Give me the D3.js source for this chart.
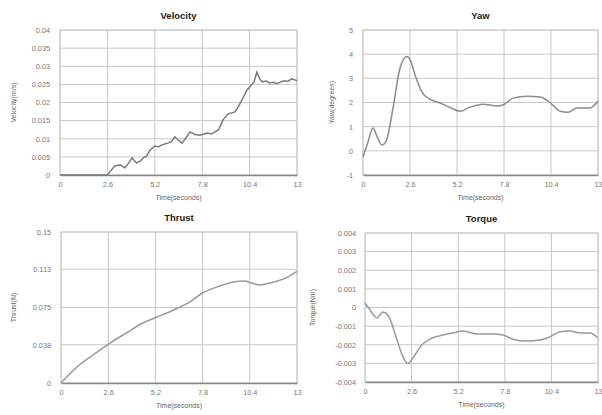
<!DOCTYPE html>
<html>
<head>
<meta charset="utf-8">
<script src="https://cdn.jsdelivr.net/npm/d3@7"></script>
<style>
  body { margin: 0; background: #fff; }
  text { font-family: "Liberation Sans", Arial, sans-serif; }
</style>
</head>
<body>
<script>
// shared x ticks
let timeTicks = [0, 2.6, 5.2, 7.8, 10.4, 13]

// velocity
let velTime = [0, 1, 2, 2.6, 2.8, 3.0, 3.3, 3.55, 3.75, 3.95, 4.2, 4.4, 4.57, 4.75, 4.94, 5.2, 5.4, 5.6, 5.9, 6.1, 6.3, 6.5, 6.7, 6.9, 7.13, 7.4, 7.7, 8.05, 8.3, 8.5, 8.7, 8.94, 9.2, 9.6, 9.8, 9.98, 10.25, 10.5, 10.65, 10.8, 10.95, 11.1, 11.3, 11.5, 11.7, 11.9, 12.1, 12.3, 12.5, 12.7, 12.85, 13]
let velValues = [0, 0, 0, 0, 0.0012, 0.0025, 0.0028, 0.002, 0.0032, 0.0047, 0.0033, 0.0038, 0.0047, 0.0052, 0.0069, 0.008, 0.0078, 0.0083, 0.0088, 0.0092, 0.0105, 0.0096, 0.0088, 0.0102, 0.0119, 0.0112, 0.011, 0.0116, 0.0113, 0.0119, 0.0125, 0.0152, 0.0168, 0.0174, 0.019, 0.0207, 0.0234, 0.0248, 0.0258, 0.0284, 0.0265, 0.0257, 0.0259, 0.0254, 0.0256, 0.0252, 0.0257, 0.026, 0.0258, 0.0265, 0.0263, 0.026]
let velTicks = [0, 0.005, 0.01, 0.015, 0.02, 0.025, 0.03, 0.035, 0.04]

// yaw
let yawTime = [0, 0.25, 0.55, 0.8, 1.05, 1.3, 1.66, 2.05, 2.43, 2.6, 2.88, 3.26, 3.7, 4.26, 4.8, 5.37, 5.9, 6.64, 7.4, 7.74, 8.3, 9.07, 9.8, 10.34, 10.9, 11.34, 11.84, 12.56, 13]
let yawValues = [-0.25, 0.3, 0.95, 0.55, 0.24, 0.45, 1.77, 3.43, 3.9, 3.78, 3.14, 2.43, 2.14, 1.98, 1.8, 1.64, 1.8, 1.93, 1.86, 1.9, 2.18, 2.26, 2.23, 2.0, 1.64, 1.6, 1.77, 1.77, 2.06]
let yawTicks = [-1, 0, 1, 2, 3, 4, 5]

// thrust
let thrustTime = [0, 0.88, 1.76, 2.7, 3.6, 4.5, 5.3, 6.2, 7.1, 7.8, 8.75, 9.5, 10.1, 10.5, 10.96, 11.5, 12.45, 13]
let thrustValues = [0, 0.0159, 0.0278, 0.0397, 0.0497, 0.0596, 0.0656, 0.0725, 0.0805, 0.0894, 0.0964, 0.1003, 0.1013, 0.0993, 0.0974, 0.0993, 0.105, 0.111]
let thrustTicks = [0, 0.038, 0.075, 0.113, 0.15]

// torque
let torqueTime = [0, 0.28, 0.67, 1.0, 1.28, 1.79, 2.12, 2.4, 2.68, 3.18, 3.74, 4.35, 4.9, 5.47, 6.25, 7.14, 7.7, 8.26, 9.04, 9.77, 10.3, 10.88, 11.44, 12.0, 12.56, 13]
let torqueValues = [0.00024, -0.00013, -0.00056, -0.00024, -0.0004, -0.00175, -0.00266, -0.003, -0.0027, -0.002, -0.00164, -0.00148, -0.00137, -0.00126, -0.00142, -0.00142, -0.00148, -0.0017, -0.0018, -0.00175, -0.00158, -0.0013, -0.00126, -0.00137, -0.00137, -0.00164]
let torqueTicks = [-0.004, -0.003, -0.002, -0.001, 0, 0.001, 0.002, 0.003, 0.004]

let width = 602
let height = 415

let svg = d3.select('body')
    .append('svg')
    .attr('width', width)
    .attr('height', height)

const drawPanel = (p) => {
    let xScale = d3.scaleLinear()
                    .domain([0, 13])
                    .range([p.left, p.right])

    let yScale = d3.scaleLinear()
                    .domain([p.ticks[0], p.ticks[p.ticks.length - 1]])
                    .range([p.bottom, p.top])

    let g = svg.append('g')

    // border
    g.append('rect')
        .attr('x', p.left)
        .attr('y', p.top)
        .attr('width', p.right - p.left)
        .attr('height', p.bottom - p.top)
        .attr('fill', 'none')
        .attr('stroke', '#d0d0d0')

    // grid
    g.selectAll('.hgrid')
        .data(p.ticks)
        .enter()
        .append('line')
        .attr('x1', p.left)
        .attr('x2', p.right)
        .attr('y1', d => yScale(d))
        .attr('y2', d => yScale(d))
        .attr('stroke', '#c8c8c8')

    g.selectAll('.vgrid')
        .data(timeTicks)
        .enter()
        .append('line')
        .attr('x1', d => xScale(d))
        .attr('x2', d => xScale(d))
        .attr('y1', p.top)
        .attr('y2', p.bottom)
        .attr('stroke', '#c8c8c8')

    let xAxis = d3.axisBottom(xScale)
                    .tickValues(timeTicks)
                    .tickSize(0)
                    .tickPadding(7)
                    .tickFormat(d => String(d))

    let yAxis = d3.axisLeft(yScale)
                    .tickValues(p.ticks)
                    .tickSize(0)
                    .tickPadding(p.pad)
                    .tickFormat(d => String(d))

    let xg = g.append('g')
        .call(xAxis)
        .attr('transform', 'translate(0, ' + p.bottom + ')')
    xg.select('.domain').attr('stroke', '#888').attr('stroke-width', 1.3)

    let yg = g.append('g')
        .call(yAxis)
        .attr('transform', 'translate(' + p.left + ', 0)')
    yg.select('.domain').remove()

    g.selectAll('.tick text')
        .attr('fill', '#777')
        .style('font-size', '7.3px')

    // line
    let pts = p.time.map((t, i) => [t, p.values[i]])
    let line = d3.line()
                    .x(d => xScale(d[0]))
                    .y(d => yScale(d[1]))
                    .curve(p.curve)

    g.append('path')
        .datum(pts)
        .attr('d', line)
        .attr('fill', 'none')
        .attr('stroke', p.color)
        .attr('stroke-width', 1.5)

    // titles
    g.append('text')
        .attr('x', (p.left + p.right) / 2)
        .attr('y', p.top - 11)
        .attr('text-anchor', 'middle')
        .style('font-size', '9.5px')
        .style('font-weight', 'bold')
        .attr('fill', '#222')
        .text(p.title)

    g.append('text')
        .attr('x', (p.left + p.right) / 2)
        .attr('y', p.bottom + 25)
        .attr('text-anchor', 'middle')
        .style('font-size', '7px')
        .attr('fill', '#666')
        .text('Time(seconds)')

    g.append('text')
        .attr('transform', 'translate(' + p.ylabelX + ',' + ((p.top + p.bottom) / 2) + ') rotate(-90)')
        .attr('text-anchor', 'middle')
        .style('font-size', '7px')
        .attr('fill', '#666')
        .text(p.ylabel)
}

drawPanel({
    title: 'Velocity', ylabel: 'Velocity(m/s)',
    time: velTime, values: velValues, ticks: velTicks,
    left: 60, right: 297, top: 30, bottom: 175, pad: 10, ylabelX: 16,
    curve: d3.curveLinear, color: '#7a7a7a'
})

drawPanel({
    title: 'Yaw', ylabel: 'Yaw(degrees)',
    time: yawTime, values: yawValues, ticks: yawTicks,
    left: 363, right: 598, top: 30, bottom: 175, pad: 10, ylabelX: 334,
    curve: d3.curveMonotoneX, color: '#8c8c8c'
})

drawPanel({
    title: 'Thrust', ylabel: 'Thrust(N)',
    time: thrustTime, values: thrustValues, ticks: thrustTicks,
    left: 61, right: 297, top: 232, bottom: 383, pad: 10, ylabelX: 16,
    curve: d3.curveMonotoneX, color: '#999'
})

drawPanel({
    title: 'Torque', ylabel: 'Torque(Nm)',
    time: torqueTime, values: torqueValues, ticks: torqueTicks,
    left: 365, right: 598, top: 233, bottom: 382, pad: 9, ylabelX: 315,
    curve: d3.curveMonotoneX, color: '#999'
})
</script>
</body>
</html>
